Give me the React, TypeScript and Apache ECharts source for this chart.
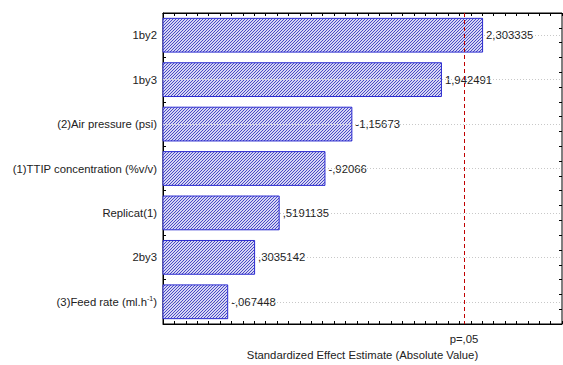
import React, { useEffect, useRef } from "react";
import * as echarts from "echarts";

const categories = [
  "1by2",
  "1by3",
  "(2)Air pressure (psi)",
  "(1)TTIP concentration (%v/v)",
  "Replicat(1)",
  "2by3",
  "(3)Feed rate (ml.h-1)",
];
const effects = [2.303335, 1.942491, -1.15673, -0.92066, 0.5191135, 0.3035142, -0.067448];
const xMin = -0.5;
const xMax = 3.0;
const pCritical = 2.1448;
const pLabel = "p=,05";
const xTitle = "Standardized Effect Estimate (Absolute Value)";

function fmt(v: number): string {
  let s = Math.abs(v).toString();
  if (s.startsWith("0.")) s = s.slice(1);
  s = s.replace(".", ",");
  return (v < 0 ? "-" : "") + s;
}

function makePattern(): HTMLCanvasElement {
  const n = 3;
  const c = document.createElement("canvas");
  c.width = n;
  c.height = n;
  const g = c.getContext("2d")!;
  g.fillStyle = "#d6d6f4";
  g.fillRect(0, 0, n, n);
  g.fillStyle = "#4a4ac4";
  for (let i = 0; i < n; i++) {
    g.fillRect(i, n - 1 - i, 1, 1);
  }
  return c;
}

export default function App() {
  const ref = useRef<HTMLDivElement>(null);
  useEffect(() => {
    if (!ref.current) return;
    const chart = echarts.init(ref.current, undefined, { renderer: "svg" });
    const font = "Liberation Sans, Arial, sans-serif";
    const pattern = { image: makePattern(), repeat: "repeat" };
    const tickAxis = (pos: "left" | "right") => ({
      type: "value",
      position: pos,
      min: 0,
      max: 21,
      interval: 1,
      axisLine: { show: false, onZero: false },
      axisLabel: { show: false },
      splitLine: { show: false },
      axisTick: { show: true, inside: true, length: 3, lineStyle: { color: "#000" } },
    });
    const xAx = (pos: "top" | "bottom", extra: any = {}) => ({
      type: "value",
      position: pos,
      min: xMin,
      max: xMax,
      interval: 0.1,
      axisLine: { show: true, onZero: false, lineStyle: { color: "#000" } },
      axisLabel: { show: false },
      splitLine: { show: false },
      axisTick: { show: true, inside: true, length: 3, lineStyle: { color: "#000" } },
      ...extra,
    });
    chart.setOption({
      animation: false,
      grid: {
        left: 163,
        right: 1,
        top: 13,
        bottom: 39,
        show: true,
        borderColor: "#000",
        borderWidth: 1,
        backgroundColor: "#fff",
      },
      xAxis: [
        xAx("bottom", {
          name: xTitle,
          nameLocation: "middle",
          nameGap: 25,
          nameTextStyle: { fontFamily: font, fontSize: 11.3, color: "#222" },
        }),
        xAx("top"),
      ],
      yAxis: [
        {
          type: "category",
          data: categories,
          inverse: true,
          axisLine: { show: true, onZero: false, lineStyle: { color: "#000" } },
          axisTick: { show: false },
          splitLine: { show: false },
          axisLabel: {
            fontFamily: font,
            fontSize: 11.3,
            color: "#222",
            margin: 6,
            formatter: (v: string) => v.replace("ml.h-1", "ml.h{sup|-1}"),
            rich: {
              sup: { fontFamily: font, fontSize: 7, color: "#222", verticalAlign: "top", padding: [0, 0, 6, 0] },
            },
          },
        },
        tickAxis("left"),
        tickAxis("right"),
      ],
      series: [
        {
          type: "line",
          xAxisIndex: 0,
          yAxisIndex: 0,
          data: [],
          z: 1,
          markLine: {
            silent: true,
            symbol: "none",
            label: { show: false },
            lineStyle: { color: "#c8c8c8", type: [1, 2], width: 1 },
            data: categories.map((c) => ({ yAxis: c })),
          },
        },
        {
          type: "custom",
          xAxisIndex: 0,
          yAxisIndex: 0,
          z: 3,
          data: effects.map((v, i) => [Math.abs(v), i]),
          encode: { x: 0, y: 1 },
          renderItem: (params: any, api: any) => {
            const val = api.value(0);
            const cat = api.value(1);
            const s = api.coord([xMin, cat]);
            const e = api.coord([val, cat]);
            const bandH = api.size([0, 1])[1];
            const h = bandH * 0.76;
            return {
              type: "rect",
              shape: { x: s[0], y: s[1] - h / 2, width: e[0] - s[0], height: h },
              style: { fill: pattern, stroke: "#2a2ad0", lineWidth: 1 },
              textContent: {
                style: {
                  text: fmt(effects[params.dataIndex]),
                  fontFamily: font,
                  fontSize: 11.3,
                  fill: "#222",
                  backgroundColor: "#fff",
                  padding: [0, 1],
                },
              },
              textConfig: { position: "right", distance: 2 },
            };
          },
        },
        {
          type: "line",
          xAxisIndex: 0,
          yAxisIndex: 0,
          data: [],
          z: 5,
          markLine: {
            silent: true,
            symbol: "none",
            lineStyle: { color: "#c00000", type: [4, 3], width: 1 },
            label: {
              show: true,
              position: "end",
              distance: 9,
              formatter: pLabel,
              fontFamily: font,
              fontSize: 11.3,
              color: "#222",
            },
            data: [{ xAxis: pCritical }],
          },
        },
      ],
    });
    return () => chart.dispose();
  }, []);
  return (
    <div
      ref={ref}
      style={{ position: "absolute", left: 0, top: 0, width: 563, height: 365, background: "#fff" }}
    />
  );
}
